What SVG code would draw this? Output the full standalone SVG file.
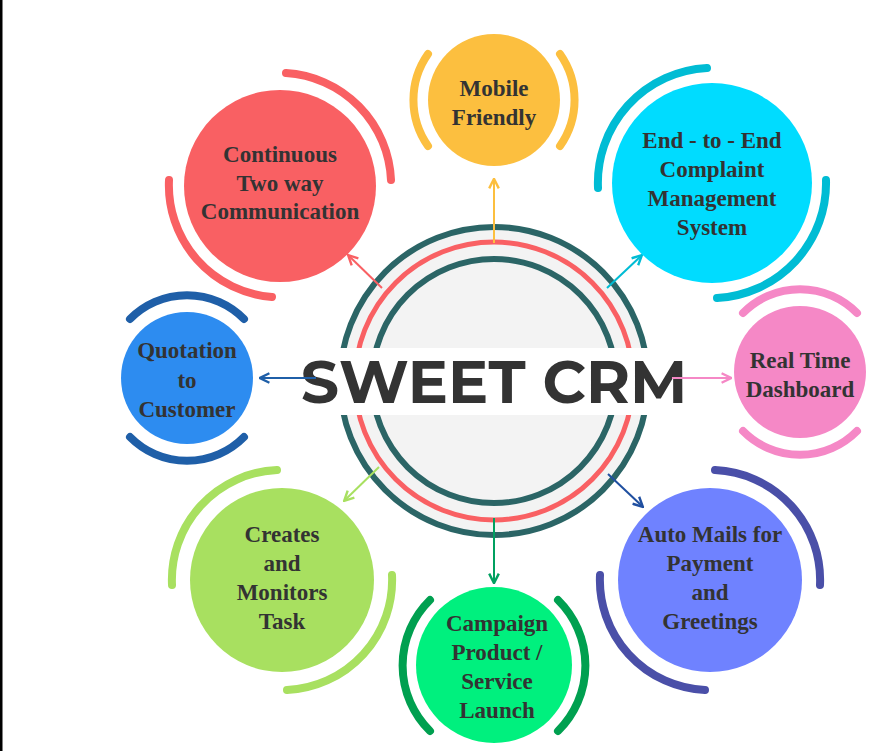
<svg xmlns="http://www.w3.org/2000/svg" width="881" height="751" viewBox="0 0 881 751">
<defs>
<style>
.lbl{font-family:"Liberation Serif","DejaVu Serif",serif;font-weight:bold;font-size:23px;fill:#333;text-anchor:middle}
.arc{fill:none;stroke-width:8;stroke-linecap:round}
.con{stroke-width:2;fill:none}
</style>
<marker id="ah" viewBox="0 0 10 10" refX="8" refY="5" markerWidth="6" markerHeight="6" orient="auto"><path d="M1,1 L9,5 L1,9" fill="none" stroke="context-stroke" stroke-width="2"/></marker>
</defs>
<rect width="881" height="751" fill="#fff"/>
<rect x="0" y="0" width="2.5" height="751" fill="#000"/>
<g id="center">
<circle cx="494" cy="381" r="154" fill="#f3f3f3" stroke="#2b6566" stroke-width="6"/>
<circle cx="494" cy="381" r="139" fill="none" stroke="#f96063" stroke-width="5"/>
<circle cx="494" cy="381" r="122" fill="none" stroke="#2b6566" stroke-width="6"/>
<rect x="330" y="348" width="330" height="67" fill="#fff"/>
<text x="494" y="403" font-family="Montserrat,Inter,'Liberation Sans',sans-serif" font-weight="bold" font-size="60" fill="#333" text-anchor="middle">SWEET CRM</text>
</g>
<g id="connectors">
<line class="con" x1="494" y1="243" x2="494" y2="180" stroke="#fcbf3f" marker-end="url(#ah)"/>
<line class="con" x1="382" y1="288" x2="349" y2="256" stroke="#f96063" marker-end="url(#ah)"/>
<line class="con" x1="607" y1="288" x2="641" y2="256" stroke="#00bcd4" marker-end="url(#ah)"/>
<line class="con" x1="672" y1="378" x2="730" y2="378" stroke="#f588c6" marker-end="url(#ah)"/>
<line class="con" x1="316" y1="378" x2="261" y2="378" stroke="#1f5fa8" marker-end="url(#ah)"/>
<line class="con" x1="379" y1="467" x2="345" y2="500" stroke="#a8e060" marker-end="url(#ah)"/>
<line class="con" x1="608" y1="474" x2="642" y2="506" stroke="#1f4fa0" marker-end="url(#ah)"/>
<line class="con" x1="494" y1="518" x2="494" y2="582" stroke="#00a060" marker-end="url(#ah)"/>
</g>
<g id="mobile">
<path class="arc" stroke="#fcbf3f" d="M428,54 A80,80 0 0 0 428,146 M560,54 A80,80 0 0 1 560,146"/>
<circle cx="494" cy="100" r="66" fill="#fcbf3f"/>
<text class="lbl" x="494" y="96">Mobile</text><text class="lbl" x="494" y="125">Friendly</text>
</g>
<g id="continuous">
<path class="arc" stroke="#f96063" d="M286,73 A112,112 0 0 1 391,180 M169,180 A112,112 0 0 0 272,297"/>
<circle cx="280" cy="186" r="96" fill="#f96063"/>
<text class="lbl" x="280" y="162">Continuous</text><text class="lbl" x="280" y="191">Two way</text><text class="lbl" x="280" y="219">Communication</text>
</g>
<g id="endtoend">
<path class="arc" stroke="#00bcd4" d="M598,188 A115,115 0 0 1 707,68 M826,180 A115,115 0 0 1 717,298"/>
<circle cx="712" cy="183" r="100" fill="#00dcff"/>
<text class="lbl" x="712" y="148">End - to - End</text><text class="lbl" x="712" y="177">Complaint</text><text class="lbl" x="712" y="206">Management</text><text class="lbl" x="712" y="235">System</text>
</g>
<g id="realtime">
<path class="arc" stroke="#f588c6" d="M743,313 A80,80 0 0 1 857,313 M743,431 A80,80 0 0 0 857,431"/>
<circle cx="800" cy="372" r="66" fill="#f588c6"/>
<text class="lbl" x="800" y="368">Real Time</text><text class="lbl" x="800" y="397">Dashboard</text>
</g>
<g id="quotation">
<path class="arc" stroke="#1f5fa8" d="M130,319 A80,80 0 0 1 244,319 M130,437 A80,80 0 0 0 244,437"/>
<circle cx="187" cy="378" r="66" fill="#2d8cf0"/>
<text class="lbl" x="187" y="358">Quotation</text><text class="lbl" x="187" y="388">to</text><text class="lbl" x="187" y="417">Customer</text>
</g>
<g id="creates">
<path class="arc" stroke="#a8e060" d="M172,585 A110,110 0 0 1 277,470 M392,575 A110,110 0 0 1 287,690"/>
<circle cx="282" cy="580" r="92" fill="#a8e060"/>
<text class="lbl" x="282" y="542">Creates</text><text class="lbl" x="282" y="571">and</text><text class="lbl" x="282" y="600">Monitors</text><text class="lbl" x="282" y="629">Task</text>
</g>
<g id="automails">
<path class="arc" stroke="#4a4fa8" d="M715,470 A110,110 0 0 1 820,585 M600,575 A110,110 0 0 0 705,690"/>
<circle cx="710" cy="580" r="92" fill="#6f82ff"/>
<text class="lbl" x="710" y="542">Auto Mails for</text><text class="lbl" x="710" y="571">Payment</text><text class="lbl" x="710" y="600">and</text><text class="lbl" x="710" y="629">Greetings</text>
</g>
<g id="campaign">
<path class="arc" stroke="#00a050" d="M430,600 A92,92 0 0 0 430,731 M558,600 A92,92 0 0 1 558,731"/>
<circle cx="494" cy="665" r="78" fill="#00f07e"/>
<text class="lbl" x="497" y="631">Campaign</text><text class="lbl" x="497" y="660">Product /</text><text class="lbl" x="497" y="689">Service</text><text class="lbl" x="497" y="718">Launch</text>
</g>
</svg>
